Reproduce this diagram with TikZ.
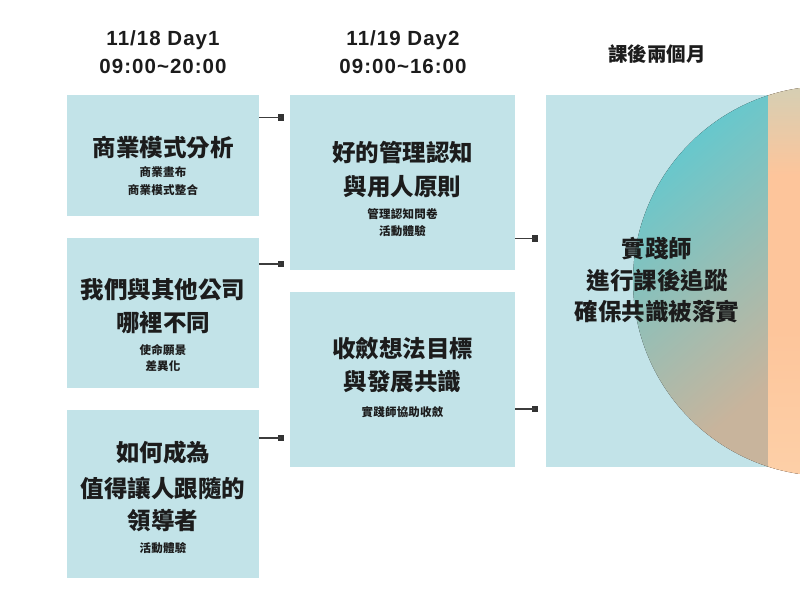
\documentclass[tikz,border=0pt]{standalone}
\usepackage{fontspec}
\setmainfont{Liberation Sans}
\newfontfamily\hdfont[LetterSpace=5]{Liberation Sans}
\newfontfamily\cjkT{Noto Sans CJK TC}
\newfontfamily\cjkS[LetterSpace=2]{Noto Sans CJK TC}
\newfontfamily\cjkH{Noto Sans CJK TC}
\definecolor{boxc}{HTML}{C2E3E8}
\definecolor{lnc}{HTML}{3C3C3C}
\definecolor{sqc}{HTML}{333333}
\definecolor{txtc}{HTML}{1C1C1C}
\definecolor{cinA}{HTML}{4CCDDA}
\definecolor{cinB}{HTML}{C8B49C}
\definecolor{coutA}{HTML}{D4CFB4}
\definecolor{coutM}{HTML}{FDC59B}
\definecolor{coutB}{HTML}{FDD0A8}
\begin{document}
\begin{tikzpicture}[x=1pt,y=-1pt,
  box/.style={fill=boxc,draw=none,inner sep=0,anchor=north west},
  conn/.style={draw=lnc,line width=1.8pt},
  sq/.style={fill=sqc,draw=none,minimum size=6.2pt,inner sep=0},
  ttl/.style={anchor=base,inner sep=0,text=txtc,font=\cjkT\bfseries\fontsize{23.5}{27}\selectfont},
  sub/.style={anchor=base,inner sep=0,text=txtc,font=\cjkS\bfseries\fontsize{11.5}{13}\selectfont},
  hdr/.style={anchor=base,inner sep=0,text=txtc,font=\hdfont\bfseries\fontsize{20.5}{24}\selectfont},
  hdc/.style={anchor=base,inner sep=0,text=txtc,font=\cjkH\bfseries\fontsize{19.5}{22}\selectfont}]
\useasboundingbox (0,0) rectangle (800,600);

% boxes
\node[box,minimum width=192pt,minimum height=121pt] (b1) at (67,95) {};
\node[box,minimum width=192pt,minimum height=150pt] (b2) at (67,238) {};
\node[box,minimum width=192pt,minimum height=168pt] (b3) at (67,410) {};
\node[box,minimum width=225pt,minimum height=175pt] (b4) at (290,95) {};
\node[box,minimum width=225pt,minimum height=175pt] (b5) at (290,292) {};
\node[box,minimum width=222pt,minimum height=372pt] (b6) at (546,95) {};

% gradient half circle
\begin{scope}
\clip (0,0) rectangle (800,600);
\clip (828,281) circle (195pt);
\fill[top color=cinA,bottom color=cinB,shading angle=40] (546,95) rectangle (768,467);
\fill[coutM] (768,80) rectangle (800,482);
\fill[top color=coutA,bottom color=coutM] (768,84) rectangle (800,175);
\fill[top color=coutM,bottom color=coutB] (768,330) rectangle (800,482);
\end{scope}

% headers
\node[hdr] (h1a) at (163,45) {11/18 Day1};
\node[hdr] (h1b) at (163,73) {09:00\textasciitilde 20:00};
\node[hdr] (h2a) at (403,45) {11/19 Day2};
\node[hdr] (h2b) at (403,73) {09:00\textasciitilde 16:00};
\node[hdc] (h3) at (657,61) {課後兩個月};

% box 1
\node[ttl] (t1a) at (163,156) {商業模式分析};
\node[sub] (s1a) at (163,176.5) {商業畫布};
\node[sub] (s1b) at (163,194.5) {商業模式整合};
% box 2
\node[ttl] (t2a) at (163,298) {我們與其他公司};
\node[ttl] (t2b) at (163,331) {哪裡不同};
\node[sub] (s2a) at (163,354) {使命願景};
\node[sub] (s2b) at (163,370.5) {差異化};
% box 3
\node[ttl] (t3a) at (163,461) {如何成為};
\node[ttl] (t3b) at (163,497) {值得讓人跟隨的};
\node[ttl] (t3c) at (163,529) {領導者};
\node[sub] (s3a) at (163,552.5) {活動體驗};
% box 4
\node[ttl] (t4a) at (402.5,161) {好的管理認知};
\node[ttl] (t4b) at (402.5,195) {與用人原則};
\node[sub] (s4a) at (402.5,218) {管理認知問卷};
\node[sub] (s4b) at (402.5,235.5) {活動體驗};
% box 5
\node[ttl] (t5a) at (402.5,357) {收斂想法目標};
\node[ttl] (t5b) at (402.5,390) {與發展共識};
\node[sub] (s5a) at (402.5,416) {實踐師協助收斂};
% box 6
\node[ttl] (t6a) at (657,257) {實踐師};
\node[ttl] (t6b) at (657,289) {進行課後追蹤};
\node[ttl] (t6c) at (657,320) {確保共識被落實};

% connectors
\node[sq] (q1) at (280.7,117.5) {};
\node[sq] (q2) at (280.7,264) {};
\node[sq] (q3) at (280.7,438) {};
\node[sq] (q4) at (535,238.5) {};
\node[sq] (q5) at (535,409) {};
\draw[conn] (b1.east |- q1) -- (q1.center);
\draw[conn] (b2.east |- q2) -- (q2.center);
\draw[conn] (b3.east |- q3) -- (q3.center);
\draw[conn] (b4.east |- q4) -- (q4.center);
\draw[conn] (b5.east |- q5) -- (q5.center);
\end{tikzpicture}
\end{document}
